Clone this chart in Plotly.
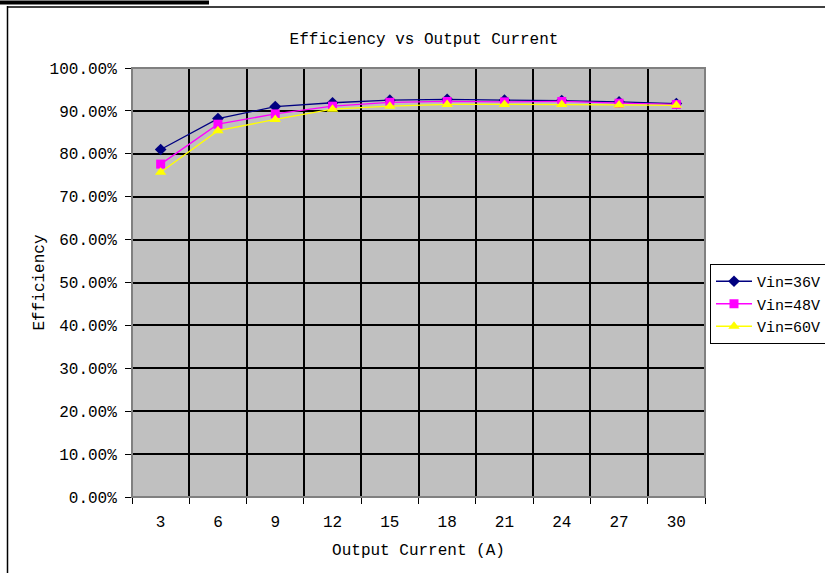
import plotly.graph_objects as go

# Output current (A) categories and efficiency per input voltage
current = ["3", "6", "9", "12", "15", "18", "21", "24", "27", "30"]
eff_36v = [0.810, 0.882, 0.910, 0.919, 0.925, 0.927, 0.925, 0.924, 0.921, 0.917]
eff_48v = [0.776, 0.869, 0.893, 0.911, 0.920, 0.922, 0.921, 0.922, 0.918, 0.915]
eff_60v = [0.757, 0.854, 0.880, 0.904, 0.911, 0.915, 0.915, 0.915, 0.914, 0.913]

series = [
    ("Vin=36V", eff_36v, "#000080", "diamond", 9),
    ("Vin=48V", eff_48v, "#FF00FF", "square", 9),
    ("Vin=60V", eff_60v, "#FFFF00", "triangle-up", 10),
]

FONT = "Liberation Mono"

fig = go.Figure()
for name, vals, color, symbol, size in series:
    fig.add_trace(go.Scatter(
        x=current, y=vals, name=name, mode="lines+markers",
        line=dict(color=color, width=1.3),
        marker=dict(symbol=symbol, size=size, color=color, line=dict(width=0)),
    ))

W, H = 825, 573
L, R, T, B = 132, 120, 68, 76
pw, ph = W - L - R, H - T - B


def px_x(x):
    return (x - L) / pw


def px_y(y):
    return 1 - (y - T) / ph


fig.update_layout(
    width=W, height=H,
    margin=dict(l=L, r=R, t=T, b=B, autoexpand=False),
    paper_bgcolor="white",
    plot_bgcolor="#C0C0C0",
    font=dict(family=FONT, size=16, color="black"),
    title=dict(text="Efficiency vs Output Current", x=424 / W, xanchor="center",
               y=1 - 38 / H, yanchor="middle", font=dict(family=FONT, size=16)),
    showlegend=True,
    legend=dict(x=px_x(710), y=px_y(264), xanchor="left", yanchor="top",
                bordercolor="black", borderwidth=1, bgcolor="white",
                font=dict(family=FONT, size=15), tracegroupgap=0,
                itemwidth=36),
    xaxis=dict(
        type="category", tickson="boundaries", range=[-0.5, 9.5],
        showgrid=True, gridcolor="black", gridwidth=1.5,
        ticks="outside", ticklen=6, tickcolor="black", tickwidth=1,
        ticklabelstandoff=10,
        showline=True, linecolor="black", linewidth=1, mirror=False,
        tickfont=dict(size=16),
        title=dict(text="Output Current (A)", font=dict(size=16), standoff=12),
    ),
    yaxis=dict(
        range=[0, 1], dtick=0.1, tickformat=".2%",
        showgrid=True, gridcolor="black", gridwidth=1.5,
        ticks="outside", ticklen=6, tickcolor="black", tickwidth=1,
        ticklabelstandoff=5,
        showline=True, linecolor="black", linewidth=1,
        zeroline=False,
        tickfont=dict(size=16),
        title=dict(text="Efficiency", font=dict(size=16), standoff=0),
    ),
)

# plot-area frame in dark gray
fig.add_shape(type="rect", xref="paper", yref="paper", x0=0, y0=0, x1=1, y1=1,
              line=dict(color="#808080", width=2), layer="above")
# outer chart border and top rule
fig.add_shape(type="line", xref="paper", yref="paper",
              x0=px_x(7.5), x1=px_x(7.5), y0=px_y(6), y1=px_y(600),
              line=dict(color="black", width=1.5))
fig.add_shape(type="line", xref="paper", yref="paper",
              x0=px_x(7), x1=px_x(830), y0=px_y(7), y1=px_y(7),
              line=dict(color="black", width=1.5))
fig.add_shape(type="line", xref="paper", yref="paper",
              x0=px_x(0), x1=px_x(209), y0=px_y(2.5), y1=px_y(2.5),
              line=dict(color="black", width=4))

fig.write_html("out.html")
